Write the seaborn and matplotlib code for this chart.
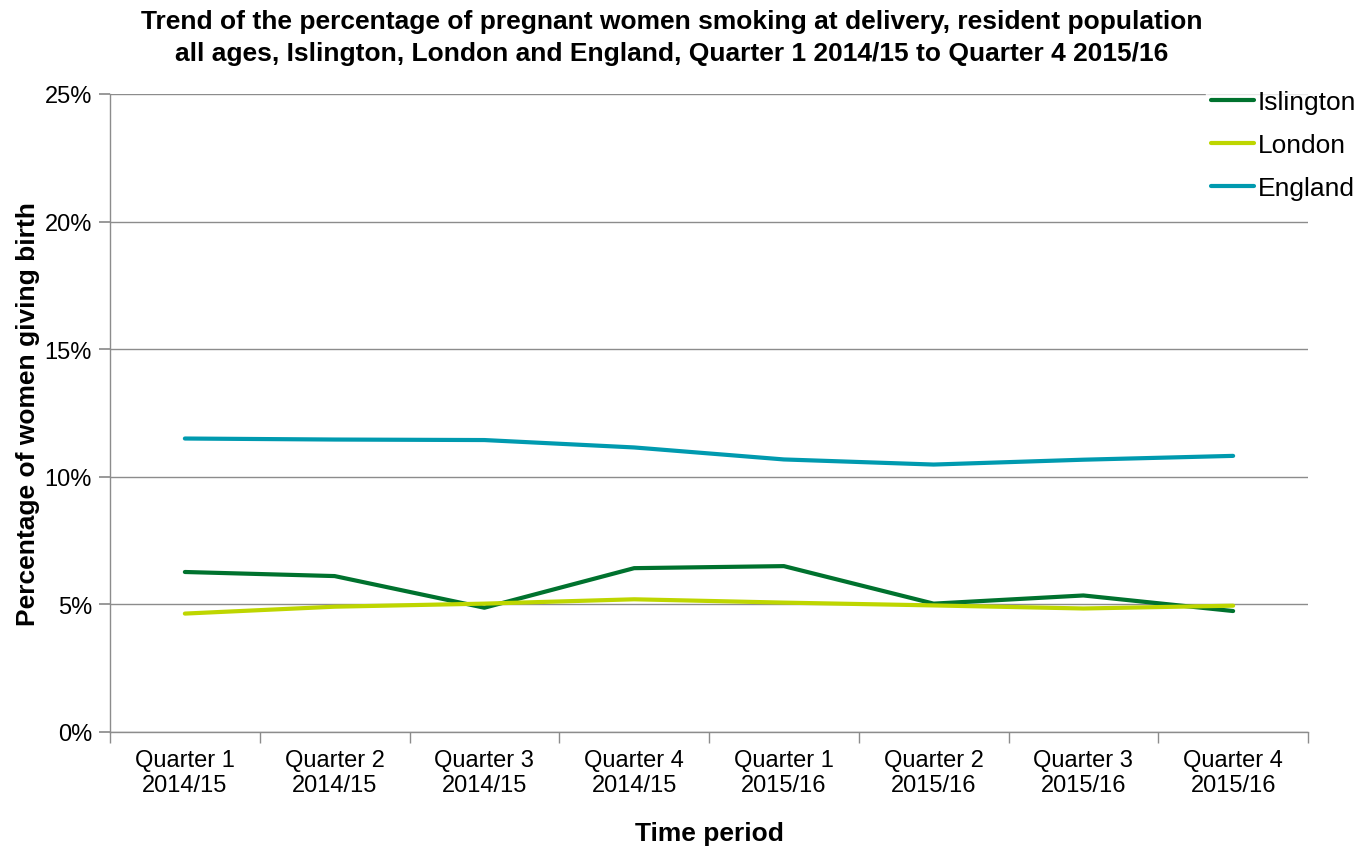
import matplotlib
matplotlib.use("Agg")
import matplotlib.pyplot as plt
import seaborn as sns
import pandas as pd
import numpy as np
from matplotlib.ticker import FixedLocator, PercentFormatter
from matplotlib.lines import Line2D

periods = ["Quarter 1\n2014/15", "Quarter 2\n2014/15", "Quarter 3\n2014/15", "Quarter 4\n2014/15",
           "Quarter 1\n2015/16", "Quarter 2\n2015/16", "Quarter 3\n2015/16", "Quarter 4\n2015/16"]
islington = [6.27, 6.11, 4.87, 6.42, 6.50, 5.03, 5.35, 4.74]
london = [4.64, 4.91, 5.03, 5.20, 5.07, 4.96, 4.84, 4.95]
england = [11.50, 11.46, 11.44, 11.15, 10.68, 10.48, 10.67, 10.82]
series_names = ["Islington", "London", "England"]
colors = ["#00722E", "#BED600", "#009AAF"]

rows = []
for name, vals in zip(series_names, [islington, london, england]):
    for i, v in enumerate(vals):
        rows.append({"pos": i, "value": v, "Area": name})
df = pd.DataFrame(rows)

sns.set_theme(style="white")
plt.rcParams['font.family'] = ['Liberation Sans', 'DejaVu Sans']

fig = plt.figure(figsize=(13.59, 8.54), dpi=100)
ax = fig.add_axes([110/1359, 1-733/854, (1308-110)/1359, (733-95)/854])

sns.lineplot(data=df, x="pos", y="value", hue="Area", palette=colors, linewidth=3,
             ax=ax, legend=False, zorder=3)

ax.set_xlim(-0.5, 7.5)
ax.set_ylim(0, 25)
ax.set_yticks([0, 5, 10, 15, 20, 25])
ax.yaxis.set_major_formatter(PercentFormatter(decimals=0))
ax.grid(axis="y", color="#8c8c8c", linewidth=1)
ax.set_axisbelow(True)

ax.set_xticks(range(len(periods)))
ax.set_xticklabels(periods, fontsize=17, color="#000000", linespacing=1.2)
ax.xaxis.set_minor_locator(FixedLocator(np.arange(-0.5, 8.0, 1.0)))
ax.tick_params(axis="x", which="major", length=0, pad=12)
ax.tick_params(axis="x", which="minor", length=8, color="#8c8c8c", direction="out", bottom=True)
ax.tick_params(axis="y", length=8, color="#8c8c8c", direction="out", left=True, labelsize=17, pad=5)
for lbl in ax.get_yticklabels():
    lbl.set_color("#000000")

for s in ["top", "right"]:
    ax.spines[s].set_visible(False)
for s in ["left", "bottom"]:
    ax.spines[s].set_color("#8c8c8c")
    ax.spines[s].set_linewidth(1)

ax.set_xlabel("Time period", fontsize=19, fontweight="bold", labelpad=18, color="#000000")
ax.set_ylabel("Percentage of women giving birth", fontsize=19, fontweight="bold",
              color="#000000")
ax.yaxis.set_label_coords(-(110 - 40) / (1308 - 110), 0.5)

handles = [Line2D([0], [0], color=c, linewidth=3) for c in colors]
leg = fig.legend(handles, series_names, loc="upper left", bbox_to_anchor=(1206/1359, 1-86/854),
                 frameon=True, fontsize=19, handlelength=1.6, handletextpad=0.15,
                 labelspacing=0.72, borderpad=0.2, borderaxespad=0)
leg.get_frame().set_facecolor("white")
leg.get_frame().set_edgecolor("white")
for t in leg.get_texts():
    t.set_color("#000000")

fig.text(672/1359, 1-10/854,
         "Trend of the percentage of pregnant women smoking at delivery, resident population\n"
         "all ages, Islington, London and England, Quarter 1 2014/15 to Quarter 4 2015/16",
         ha="center", va="top", fontsize=19, fontweight="bold", linespacing=1.4, color="#000000")

fig.savefig("out.png", dpi=100, facecolor="white")
